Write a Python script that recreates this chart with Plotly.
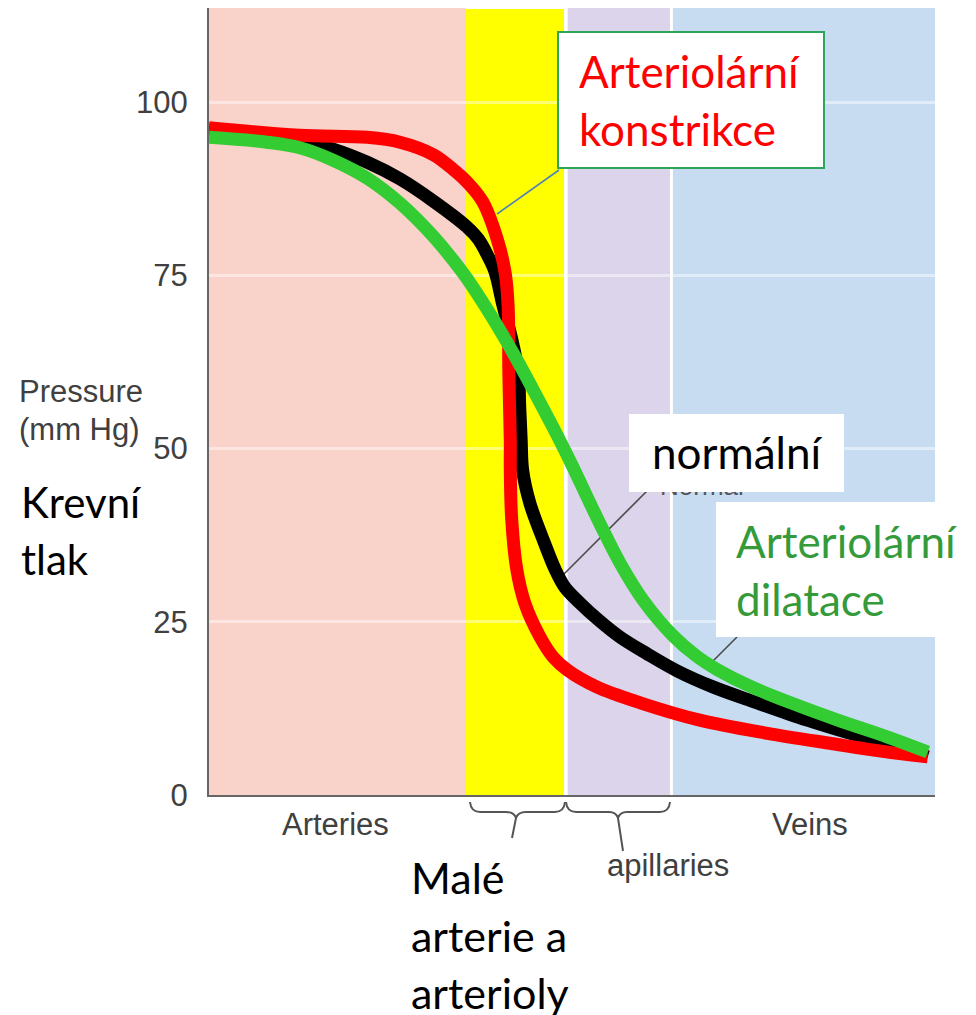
import plotly.graph_objects as go

# ---------------- data ----------------
# x: relative position along the vascular bed (0 = arteries start, 100 = veins end)
normal_x = [0, 12.5, 17.1, 21.8, 26.3, 30.9, 35.5, 37.1, 38.4, 39.4, 40.5, 41.7, 42.6, 42.8, 43.0, 43.2,
            44.2, 45.9, 47.7, 49.0, 51.1, 53.6, 56.6, 60.3, 64.5, 69.4, 75.5, 82.4, 88.3, 92.8, 99.0]
normal_y = [96.1, 94.4, 93.2, 91.3, 88.9, 85.7, 82.0, 80.2, 77.8, 75.5, 70.6, 65.8, 60.9, 56.0, 51.2, 46.9,
            42.1, 37.2, 32.5, 30.0, 27.7, 25.3, 22.8, 20.4, 17.9, 15.6, 13.3, 10.8, 8.9, 7.6, 5.5]

constrict_x = [0, 12.5, 21.8, 26.3, 30.9, 33.6, 35.5, 37.7, 39.7, 40.8, 41.2, 41.3, 41.5, 41.5, 41.7,
               42.4, 43.5, 45.6, 47.4, 49.4, 53.4, 59.4, 67.6, 76.9, 85.9, 92.8, 99.0]
constrict_y = [96.3, 95.2, 94.9, 94.2, 92.4, 90.3, 88.5, 85.6, 80.2, 75.3, 70.6, 60.9, 51.2, 46.9, 39.7,
               32.5, 27.7, 22.8, 19.9, 18.0, 15.6, 13.3, 10.8, 8.9, 7.4, 6.3, 5.5]

dilat_x = [0, 8.0, 12.5, 17.1, 21.8, 26.3, 30.9, 35.0, 37.7, 40.5, 43.1, 45.6, 48.1, 50.0, 51.9, 54.1,
           56.6, 59.8, 63.9, 67.2, 70.0, 74.5, 80.4, 86.9, 93.4, 99.0]
dilat_y = [94.9, 94.2, 93.4, 91.6, 89.0, 85.4, 80.6, 75.3, 71.1, 66.3, 61.5, 56.6, 51.6, 47.6, 43.4, 38.6,
           33.5, 28.1, 23.0, 20.0, 18.1, 15.7, 13.2, 10.7, 8.4, 6.2]

region_start = [0, 35.4, 49.4, 63.9]
region_end = [35.4, 48.9, 63.5, 100]
region_colors = ["#f9d2c9", "#ffff00", "#dbd4ea", "#c7dcf1"]
region_layers = ["below", "between", "below", "below"]

y_ticks = [0, 25, 50, 75, 100]

# ---------------- layout geometry (screen pixels; page body has an 8px margin) ----------------
OFF = 8
W, H = 976, 1015
PL, PR, PT, PB = 209, 935, 8, 795
Y100 = 102
y_max = 100 * (PB - PT) / (PB - Y100)


def fx(px):
    return (px - PL) / (PR - PL)


def fy(py):
    return (PB - py) / (PB - PT)


ARIAL = "Liberation Sans, Arial, sans-serif"
CALIBRI = "Lato, Carlito, Calibri, sans-serif"

fig = go.Figure()

# background regions
for s, e, c, lay in zip(region_start, region_end, region_colors, region_layers):
    fig.add_shape(type="rect", xref="x", yref="paper", x0=s, x1=e, y0=0,
                  y1=1 if lay != "between" else fy(9),
                  fillcolor=c, line_width=0, layer=lay)

# faint original label partly hidden under the white box
fig.add_trace(go.Scatter(x=[67.9], y=[44.3], mode="text", text=["Normal"],
                         textfont=dict(family=ARIAL, size=26, color="#555555"),
                         hoverinfo="skip", showlegend=False))

# curves: normal (black), constriction (red), dilatation (green)
for xs, ys, col in [(normal_x, normal_y, "#000000"),
                    (constrict_x, constrict_y, "#ff0000"),
                    (dilat_x, dilat_y, "#33cc33")]:
    fig.add_trace(go.Scatter(x=xs, y=ys, mode="lines",
                             line=dict(color=col, width=13, shape="spline", smoothing=1.0),
                             hoverinfo="skip", showlegend=False))

# leader lines
for (x0, y0, x1, y1, col) in [(559, 170, 497, 214, "#4f81bd"),
                              (650, 488, 562, 576, "#4a4a4a"),
                              (737, 637, 712, 662, "#4a4a4a")]:
    fig.add_shape(type="line", xref="paper", yref="paper",
                  x0=fx(x0), y0=fy(y0), x1=fx(x1), y1=fy(y1),
                  line=dict(color=col, width=1.6), layer="between")


def path(cmds):
    out = []
    for c in cmds:
        op = c[0]
        pts = c[1:]
        coords = []
        for i in range(0, len(pts), 2):
            coords.append(f"{fx(pts[i]):.5f},{fy(pts[i+1]):.5f}")
        out.append(op + " " + " ".join(coords))
    return " ".join(out)


# braces under the axis
brace1 = path([("M", 470, 802), ("Q", 471, 812, 480, 812), ("L", 506, 812), ("Q", 514, 812, 516, 818),
               ("Q", 518, 812, 526, 812), ("L", 555, 812), ("Q", 564, 812, 565, 802),
               ("M", 516, 818), ("L", 512, 838)])
brace2 = path([("M", 566, 802), ("Q", 567, 812, 576, 812), ("L", 609, 812), ("Q", 616, 812, 618, 818),
               ("Q", 620, 812, 627, 812), ("L", 660, 812), ("Q", 669, 812, 670, 802),
               ("M", 618, 818), ("L", 623, 851)])
for p in (brace1, brace2):
    fig.add_shape(type="path", xref="paper", yref="paper", path=p,
                  line=dict(color="#555555", width=2))

# white boxes
fig.add_shape(type="rect", xref="paper", yref="paper", x0=fx(558), x1=fx(824), y0=fy(32), y1=fy(168),
              fillcolor="white", line=dict(color="#2ea65a", width=2), layer="above")
fig.add_shape(type="rect", xref="paper", yref="paper", x0=fx(629), x1=fx(844), y0=fy(414), y1=fy(492),
              fillcolor="white", line_width=0, layer="above")
fig.add_shape(type="rect", xref="paper", yref="paper", x0=fx(716), x1=fx(984), y0=fy(502), y1=fy(637),
              fillcolor="white", line_width=0, layer="above")


def label(text, px, py, size, color, family, xanchor="left"):
    fig.add_annotation(text=text, x=fx(px), y=fy(py), xref="paper", yref="paper",
                       xanchor=xanchor, yanchor="middle", showarrow=False,
                       font=dict(size=size, color=color, family=family))


# Czech labels
label("Arteriolární", 577, 71, 44, "#ff0000", CALIBRI)
label("konstrikce", 577, 129, 44, "#ff0000", CALIBRI)
label("normální", 737, 452, 44, "#000000", CALIBRI, "center")
label("Arteriolární", 734, 541, 44, "#359a3a", CALIBRI)
label("dilatace", 734, 599, 44, "#359a3a", CALIBRI)
label("Krevní", 19, 502, 42, "#000000", CALIBRI)
label("tlak", 19, 559, 42, "#000000", CALIBRI)
label("Malé", 409, 877, 43, "#000000", CALIBRI)
label("arterie a", 409, 936, 43, "#000000", CALIBRI)
label("arterioly", 409, 992, 43, "#000000", CALIBRI)

# original English labels
label("Pressure", 17, 391, 31, "#404040", ARIAL)
label("(mm Hg)", 17, 429, 31, "#404040", ARIAL)
label("Arteries", 335, 824, 31, "#404040", ARIAL, "center")
label("Veins", 810, 824, 31, "#404040", ARIAL, "center")
label("apillaries", 668, 865, 31, "#404040", ARIAL, "center")

fig.update_layout(
    width=W, height=H,
    margin=dict(l=PL - OFF, r=(W + OFF) - PR, t=PT - OFF, b=(H + OFF) - PB, pad=0),
    paper_bgcolor="white", plot_bgcolor="white",
    showlegend=False,
    xaxis=dict(range=[0, 100], showgrid=False, showticklabels=False, zeroline=False,
               showline=True, linecolor="#666666", linewidth=2, ticks="", fixedrange=True),
    yaxis=dict(range=[0, y_max], tickvals=y_ticks, showgrid=True,
               gridcolor="rgba(255,255,255,0.45)", gridwidth=3, zeroline=False,
               showline=True, linecolor="#666666", linewidth=2, ticks="",
               ticklabelstandoff=13,
               tickfont=dict(family=ARIAL, size=31, color="#404040"), fixedrange=True),
)

fig.write_html("out.html")
